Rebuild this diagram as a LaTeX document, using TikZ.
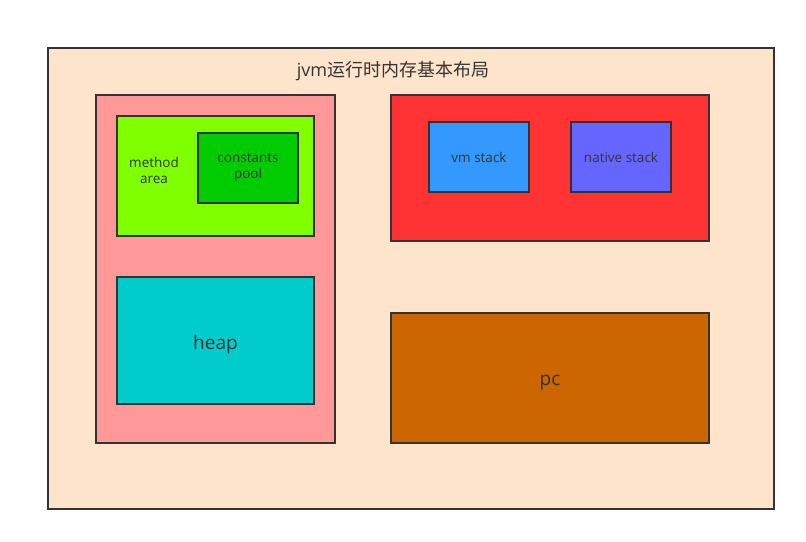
\documentclass[tikz,border=0pt]{standalone}
\usepackage{fontspec}
\setmainfont{Open Sans}
\newfontfamily\cjk{Noto Sans CJK SC}
\begin{document}
\begin{tikzpicture}[x=1pt,y=-1pt,
  box/.style={draw=black!80,line width=1.6pt},
  lbl/.style={text=black!80,inner sep=0pt,align=center}]
\useasboundingbox[fill=white] (0,0) rectangle (806,541);
\definecolor{outerc}{HTML}{FFE4CC}
\definecolor{pinkc}{HTML}{FF9999}
\definecolor{limec}{HTML}{80FF00}
\definecolor{greenc}{HTML}{00CC00}
\definecolor{cyanc}{HTML}{00CCCC}
\definecolor{redc}{HTML}{FF3333}
\definecolor{bluec}{HTML}{3399FF}
\definecolor{violc}{HTML}{6666FF}
\definecolor{brownc}{HTML}{CC6600}
\draw[box,fill=outerc] (48,48) rectangle (774,509);
\node[lbl,font=\fontsize{18pt}{21pt}\selectfont] (title) at (393,71) {jvm{\cjk 运行时内存基本布局}};
\draw[box,fill=pinkc] (96,95) rectangle (335,443);
\draw[box,fill=limec] (117,116) rectangle (314,236);
\node[lbl,font=\fontsize{13.5pt}{16pt}\selectfont] (ma) at (154,170) {method\\area};
\draw[box,fill=greenc] (198,133) rectangle (298,203);
\node[lbl,font=\fontsize{13.5pt}{16pt}\selectfont] (cp) at (248,168) {constants\\pool};
\draw[box,fill=cyanc] (117,277) rectangle (314,404);
\node[lbl,font=\fontsize{19pt}{22pt}\selectfont] (heap) at (215.5,345) {heap};
\draw[box,fill=redc] (391,95) rectangle (709,241);
\draw[box,fill=bluec] (429,122) rectangle (529,192);
\node[lbl,font=\fontsize{13.5pt}{16pt}\selectfont] (vm) at (479,157) {vm stack};
\draw[box,fill=violc] (571,122) rectangle (671,192);
\node[lbl,font=\fontsize{13.5pt}{16pt}\selectfont] (ns) at (621,157) {native stack};
\draw[box,fill=brownc] (391,313) rectangle (709,443);
\node[lbl,font=\fontsize{19pt}{22pt}\selectfont] (pc) at (550,383) {pc};
\end{tikzpicture}
\end{document}
